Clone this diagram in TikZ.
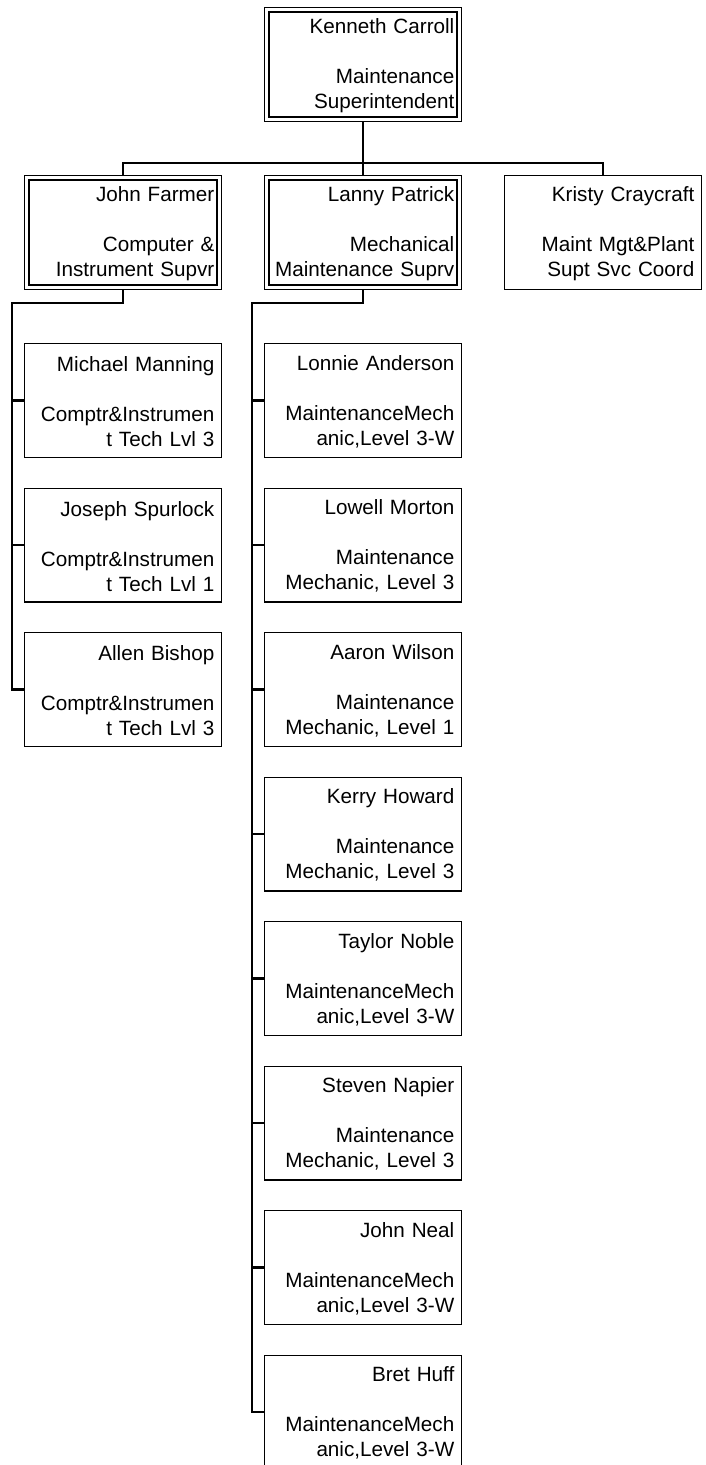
\documentclass[tikz,border=0pt]{standalone}
\usepackage{fontspec}
\setmainfont{Liberation Sans}
\usepackage{tikz}
\usetikzlibrary{positioning}

\begin{document}
\begin{tikzpicture}[x=0.75pt, y=-0.75pt,
  every node/.style={font=\fontsize{15.5pt}{18.75pt}\selectfont},
  person/.style={draw, line width=1.1pt, fill=white, align=right, text width=137pt,
    inner xsep=5.25pt, minimum width=147.4pt, minimum height=85.15pt},
  manager/.style={person, double, double distance=2pt, outer sep=2.1pt,
    inner xsep=3.6pt, minimum width=144.3pt, minimum height=82.05pt},
  link/.style={line width=1.6pt}]
  \useasboundingbox (0,0) rectangle (706,1465);
  % top and second level
  \node[manager] (kc) at (363,64.5) {\strut Kenneth Carroll\\[18.75pt]Maintenance\\Superintendent};
  \node[manager] (jf) at (123,232.5) {\strut John Farmer\\[18.75pt]Computer \&\\Instrument Supvr};
  \node[manager] (lp) at (363,232.5) {\strut Lanny Patrick\\[18.75pt]Mechanical\\Maintenance Suprv};
  \node[person] (kcr) at (603,232.5) {\strut Kristy Craycraft\\[18.75pt]Maint Mgt\&Plant\\Supt Svc Coord};
  % staff of John Farmer
  \node[person] (mm) at (123,400.5) {\strut Michael Manning\\[18.75pt]Comptr\&Instrumen\\t Tech Lvl 3};
  \node[person] (js) at (123,545) {\strut Joseph Spurlock\\[18.75pt]Comptr\&Instrumen\\t Tech Lvl 1};
  \node[person] (ab) at (123,689.5) {\strut Allen Bishop\\[18.75pt]Comptr\&Instrumen\\t Tech Lvl 3};
  % staff of Lanny Patrick
  \node[person] (la) at (363,400.5) {\strut Lonnie Anderson\\[18.75pt]MaintenanceMech\\anic,Level 3-W};
  \node[person] (lm) at (363,545) {\strut Lowell Morton\\[18.75pt]Maintenance\\Mechanic, Level 3};
  \node[person] (aw) at (363,689.5) {\strut Aaron Wilson\\[18.75pt]Maintenance\\Mechanic, Level 1};
  \node[person] (kh) at (363,834) {\strut Kerry Howard\\[18.75pt]Maintenance\\Mechanic, Level 3};
  \node[person] (tn) at (363,978.5) {\strut Taylor Noble\\[18.75pt]MaintenanceMech\\anic,Level 3-W};
  \node[person] (sn) at (363,1123) {\strut Steven Napier\\[18.75pt]Maintenance\\Mechanic, Level 3};
  \node[person] (jn) at (363,1267.5) {\strut John Neal\\[18.75pt]MaintenanceMech\\anic,Level 3-W};
  \node[person] (bh) at (363,1412) {\strut Bret Huff\\[18.75pt]MaintenanceMech\\anic,Level 3-W};
  % connectors
  \draw[link] (kc.south) -- ++(0,41) coordinate (kcbus) -| (jf.north);
  \draw[link] (kcbus) -| (lp.north);
  \draw[link] (kcbus) -| (kcr.north);
  \draw[link] (jf.south) -- ++(0,12.7) -| ([xshift=-9pt]ab.west) -- (ab.west);
  \draw[link] ([xshift=-9pt]mm.west) -- (mm.west);
  \draw[link] ([xshift=-9pt]js.west) -- (js.west);
  \draw[link] (lp.south) -- ++(0,12.7) -| ([xshift=-9pt]bh.west) -- (bh.west);
  \draw[link] ([xshift=-9pt]la.west) -- (la.west);
  \draw[link] ([xshift=-9pt]lm.west) -- (lm.west);
  \draw[link] ([xshift=-9pt]aw.west) -- (aw.west);
  \draw[link] ([xshift=-9pt]kh.west) -- (kh.west);
  \draw[link] ([xshift=-9pt]tn.west) -- (tn.west);
  \draw[link] ([xshift=-9pt]sn.west) -- (sn.west);
  \draw[link] ([xshift=-9pt]jn.west) -- (jn.west);
\end{tikzpicture}
\end{document}
